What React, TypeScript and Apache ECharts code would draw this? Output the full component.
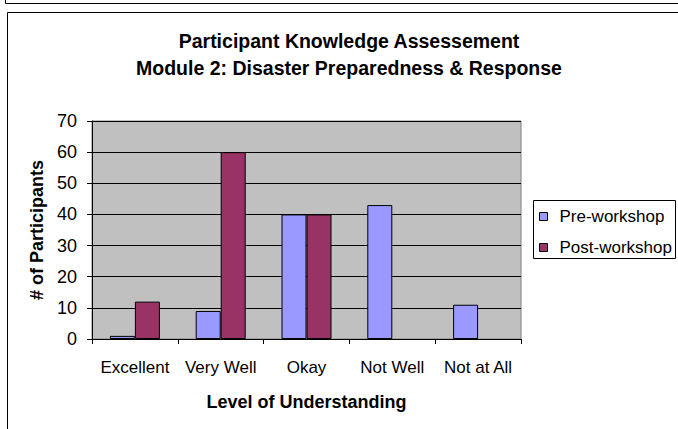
import React, { useEffect, useRef } from "react";
import * as echarts from "echarts";

const categories = ["Excellent", "Very Well", "Okay", "Not Well", "Not at All"];
const preWorkshop = [1, 9, 40, 43, 11];
const postWorkshop = [12, 60, 40, 0, 0];
const titleLines = ["Participant Knowledge Assessement", "Module 2: Disaster Preparedness & Response"];

const toBarData = (arr: number[]) =>
  arr.map((v) => (v === 0 ? { value: v, itemStyle: { borderWidth: 0, opacity: 0 } } : v));

export default function App() {
  const ref = useRef<HTMLDivElement>(null);
  useEffect(() => {
    const chart = echarts.init(ref.current!, null, { renderer: "svg" });
    const font = "Liberation Sans, Arial, sans-serif";
    chart.setOption({
      animation: false,
      backgroundColor: "#ffffff",
      textStyle: { fontFamily: font },
      title: {
        text: titleLines.join("\n"),
        left: 349,
        textAlign: "center",
        top: 27,
        padding: 0,
        textStyle: { fontSize: 19.5, fontWeight: "bold", color: "#000", lineHeight: 27, fontFamily: font },
      },
      graphic: [
        { type: "line", shape: { x1: 5.5, y1: 0, x2: 5.5, y2: 3.5 }, style: { stroke: "#000", lineWidth: 1 } },
        { type: "line", shape: { x1: 5.5, y1: 3.5, x2: 700, y2: 3.5 }, style: { stroke: "#000", lineWidth: 1 } },
        { type: "rect", shape: { x: 7.5, y: 12.5, width: 720, height: 440 }, style: { fill: "none", stroke: "#000", lineWidth: 1 }, z: -1 },
        { type: "rect", shape: { x: 533.5, y: 200.5, width: 142, height: 58 }, style: { fill: "#fff", stroke: "#000", lineWidth: 1 }, z: 1 },
      ],
      legend: {
        orient: "vertical",
        left: 539,
        top: 208,
        padding: 0,
        itemWidth: 8,
        itemHeight: 8,
        itemGap: 14,
        z: 5,
        textStyle: { fontSize: 17, color: "#000", fontFamily: font, padding: [0, 0, 0, 7] },
        data: [
          { name: "Pre-workshop", icon: "rect", itemStyle: { borderColor: "#000", borderWidth: 1 } },
          { name: "Post-workshop", icon: "rect", itemStyle: { borderColor: "#000", borderWidth: 1 } },
        ],
      },
      grid: {
        left: 92,
        top: 121,
        width: 429,
        height: 218,
        show: true,
        backgroundColor: "#c0c0c0",
        borderColor: "#808080",
        borderWidth: 1,
      },
      xAxis: {
        type: "category",
        data: categories,
        name: "Level of Understanding",
        nameLocation: "middle",
        nameGap: 54,
        nameTextStyle: { fontSize: 18, fontWeight: "bold", color: "#000", fontFamily: font },
        axisLine: { show: true, lineStyle: { color: "#000", width: 1 } },
        axisTick: { show: true, length: 5, lineStyle: { color: "#000" } },
        axisLabel: { fontSize: 17, color: "#000", margin: 20, fontFamily: font, interval: 0, hideOverlap: false },
      },
      yAxis: {
        type: "value",
        min: 0,
        max: 70,
        interval: 10,
        name: "# of Participants",
        nameLocation: "middle",
        nameGap: 46,
        nameTextStyle: { fontSize: 18, fontWeight: "bold", color: "#000", fontFamily: font },
        axisLine: { show: true, lineStyle: { color: "#000", width: 1 } },
        axisTick: { show: true, length: 5, lineStyle: { color: "#000" } },
        axisLabel: { fontSize: 18, color: "#000", margin: 15, fontFamily: font },
        splitLine: { show: true, lineStyle: { color: "#000", width: 1 } },
      },
      series: [
        {
          name: "Pre-workshop",
          type: "bar",
          data: toBarData(preWorkshop),
          barWidth: 25,
          barGap: "0%",
          itemStyle: { color: "#9999ff", borderColor: "#000", borderWidth: 1 },
        },
        {
          name: "Post-workshop",
          type: "bar",
          data: toBarData(postWorkshop),
          barWidth: 25,
          barGap: "0%",
          itemStyle: { color: "#993366", borderColor: "#000", borderWidth: 1 },
        },
      ],
    });
    return () => chart.dispose();
  }, []);
  return <div ref={ref} style={{ position: "fixed", left: 0, top: 0, width: 678, height: 429 }} />;
}
